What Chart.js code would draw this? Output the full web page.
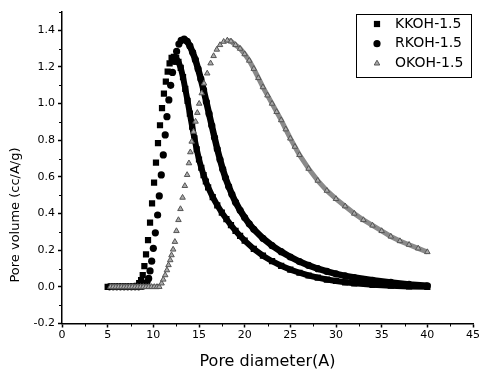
<!DOCTYPE html>
<html>
<head>
<meta charset="utf-8">
<script src="https://cdn.jsdelivr.net/npm/chart.js@4"></script>
<style>
  html, body { margin: 0; padding: 0; background: #fff; }
</style>
</head>
<body>
<canvas id="psdChart" width="481" height="370"></canvas>
<script>
// Pore size distribution (x = pore diameter in A, y = pore volume cc/A/g)
const kkohX = [5.0, 5.4, 5.8, 6.2, 6.6, 7.0, 7.4, 7.8, 8.2, 8.45,
  8.66, 8.84, 9.02, 9.2, 9.42, 9.64, 9.86, 10.08, 10.29, 10.51,
  10.73, 10.95, 11.16, 11.37, 11.57, 11.78, 12.0, 12.25, 12.5, 12.75,
  13.0, 13.25, 13.5, 13.75, 14.0, 14.25, 14.5, 14.75, 15.0, 15.25,
  15.5, 15.75, 16.0, 16.5, 17.0, 17.5, 18.0, 18.5, 19.0, 19.5,
  20, 21, 22, 23, 24, 25, 26, 27, 28, 29,
  30, 31, 32, 34, 36, 38, 40];
const kkohY = [0, 0, 0, 0, 0, 0, 0, 0, 0.005, 0.02,
  0.037, 0.064, 0.113, 0.177, 0.255, 0.35, 0.456, 0.569, 0.678, 0.784,
  0.882, 0.975, 1.055, 1.12, 1.175, 1.22, 1.25, 1.255, 1.248, 1.228,
  1.195, 1.145, 1.08, 1.015, 0.945, 0.875, 0.81, 0.75, 0.695, 0.65,
  0.61, 0.575, 0.543, 0.49, 0.445, 0.405, 0.37, 0.337, 0.306, 0.278,
  0.252, 0.207, 0.17, 0.14, 0.115, 0.094, 0.077, 0.062, 0.05, 0.04,
  0.032, 0.025, 0.019, 0.011, 0.006, 0.002, 0];

const rkohX = [5.2, 5.6, 6.0, 6.4, 6.8, 7.2, 7.6, 8.0, 8.4, 8.8,
  9.1, 9.3, 9.49, 9.64, 9.82, 10.0, 10.22, 10.47, 10.65, 10.87,
  11.09, 11.3, 11.49, 11.7, 11.9, 12.1, 12.3, 12.55, 12.8, 13.05,
  13.37, 13.7, 14.0, 14.3, 14.6, 14.9, 15.2, 15.5, 15.8, 16.1,
  16.4, 16.7, 17.0, 17.3, 17.6, 17.9, 18.25, 18.6, 19.0, 19.5,
  20.0, 20.5, 21.0, 22, 23, 24, 25, 26, 27, 28,
  29, 30, 31, 32, 34, 36, 38, 40];
const rkohY = [0, 0, 0, 0, 0, 0, 0, 0, 0, 0.003,
  0.012, 0.025, 0.046, 0.087, 0.14, 0.21, 0.295, 0.392, 0.496, 0.611,
  0.72, 0.829, 0.929, 1.02, 1.1, 1.17, 1.23, 1.285, 1.325, 1.345,
  1.352, 1.34, 1.315, 1.28, 1.24, 1.19, 1.135, 1.075, 1.01, 0.945,
  0.88, 0.815, 0.752, 0.695, 0.642, 0.595, 0.548, 0.505, 0.462, 0.418,
  0.378, 0.344, 0.314, 0.265, 0.225, 0.192, 0.163, 0.138, 0.117, 0.099,
  0.084, 0.071, 0.06, 0.051, 0.036, 0.024, 0.013, 0.006];

const okohX = [5.3, 5.6, 5.9, 6.2, 6.5, 6.8, 7.1, 7.4, 7.7, 8.0,
  8.3, 8.6, 8.9, 9.2, 9.5, 9.8, 10.1, 10.4, 10.65, 10.9,
  11.09, 11.3, 11.49, 11.66, 11.85, 11.99, 12.17, 12.36, 12.53, 12.75,
  12.97, 13.2, 13.45, 13.7, 13.9, 14.05, 14.2, 14.4, 14.62, 14.82,
  15.02, 15.3, 15.55, 15.9, 16.27, 16.6, 16.95, 17.3, 17.7, 18.1,
  18.5, 19.0, 19.5, 20.0, 20.5, 21.0, 21.5, 22.0, 22.5, 23.0,
  23.5, 24.0, 24.5, 25.0, 25.5, 26.0, 27, 28, 29, 30,
  31, 32, 33, 34, 35, 36, 37, 38, 39, 40];
const okohY = [0, 0, 0, 0, 0, 0, 0, 0, 0, 0,
  0, 0, 0, 0, 0, 0, 0, 0, 0, 0.019,
  0.04, 0.064, 0.091, 0.119, 0.146, 0.173, 0.204, 0.246, 0.305, 0.365,
  0.425, 0.487, 0.551, 0.611, 0.675, 0.735, 0.793, 0.847, 0.902, 0.95,
  1.0, 1.057, 1.11, 1.165, 1.22, 1.26, 1.295, 1.32, 1.338, 1.345,
  1.34, 1.32, 1.30, 1.27, 1.235, 1.19, 1.14, 1.09, 1.045, 1.0,
  0.955, 0.91, 0.86, 0.81, 0.765, 0.72, 0.645, 0.58, 0.525, 0.48,
  0.44, 0.40, 0.365, 0.335, 0.305, 0.275, 0.25, 0.23, 0.21, 0.19];

const seriesLabels = ['KKOH-1.5', 'RKOH-1.5', 'OKOH-1.5'];
const xTicks = [0, 5, 10, 15, 20, 25, 30, 35, 40, 45];
const yTicks = [-0.2, 0.0, 0.2, 0.4, 0.6, 0.8, 1.0, 1.2, 1.4];

const FONT = '"DejaVu Sans", sans-serif';

function toPoints(xs, ys) {
  return xs.map((x, i) => ({ x: x, y: ys[i] }));
}

// markers stand apart on the rising side; where the curve falls or is flat
// they overlap into a solid band, so only join those segments
function hideRising(ctx) {
  return ctx.p1.parsed.y > ctx.p0.parsed.y + 0.001 ? 'rgba(0,0,0,0)' : undefined;
}

// small marker drawer used by the boxed legend
function drawMarker(ctx, style, x, y, r) {
  ctx.beginPath();
  if (style === 'rect') {
    const s = r * Math.SQRT1_2;
    ctx.rect(x - s, y - s, 2 * s, 2 * s);
  } else if (style === 'triangle') {
    ctx.moveTo(x, y - r);
    ctx.lineTo(x + r * 0.866, y + r * 0.5);
    ctx.lineTo(x - r * 0.866, y + r * 0.5);
    ctx.closePath();
  } else {
    ctx.arc(x, y, r, 0, Math.PI * 2);
  }
  ctx.fill();
}

const boxLegend = {
  id: 'boxLegend',
  afterDraw(chart) {
    const ctx = chart.ctx;
    ctx.save();
    ctx.fillStyle = '#fff';
    ctx.fillRect(356, 14, 116, 63);
    ctx.strokeStyle = '#000';
    ctx.lineWidth = 1;
    ctx.strokeRect(356.5, 14.5, 115, 63);
    ctx.font = '14px ' + FONT;
    ctx.textBaseline = 'middle';
    ctx.textAlign = 'left';
    chart.data.datasets.forEach((ds, i) => {
      const y = 24 + i * 19.7;
      ctx.fillStyle = ds.pointBackgroundColor;
      drawMarker(ctx, ds.pointStyle, 377, y, ds.pointRadius);
      if (ds.pointBorderWidth) {
        ctx.strokeStyle = ds.pointBorderColor;
        ctx.lineWidth = ds.pointBorderWidth;
        ctx.stroke();
      }
      ctx.fillStyle = '#000';
      ctx.fillText(ds.label, 395, y);
    });
    ctx.restore();
  }
};

const minorTicks = {
  id: 'minorTicks',
  afterDraw(chart) {
    const { ctx, chartArea, scales } = chart;
    ctx.save();
    ctx.strokeStyle = '#000';
    ctx.lineWidth = 1;
    ctx.beginPath();
    for (let v = -0.1; v < 1.55; v += 0.2) {
      const y = Math.round(scales.y.getPixelForValue(v)) + 0.5;
      ctx.moveTo(chartArea.left - 3, y);
      ctx.lineTo(chartArea.left, y);
    }
    for (let v = 2.5; v < 45; v += 5) {
      const x = Math.round(scales.x.getPixelForValue(v)) + 0.5;
      ctx.moveTo(x, chartArea.bottom);
      ctx.lineTo(x, chartArea.bottom + 3);
    }
    ctx.stroke();
    ctx.restore();
  }
};

// the y title sits below the middle of the axis in the original, so place it by hand
const yTitle = {
  id: 'yTitle',
  afterDraw(chart) {
    const ctx = chart.ctx;
    ctx.save();
    ctx.translate(16, 215);
    ctx.rotate(-Math.PI / 2);
    ctx.font = '13px ' + FONT;
    ctx.fillStyle = '#000';
    ctx.textAlign = 'center';
    ctx.textBaseline = 'middle';
    ctx.fillText('Pore volume (cc/A/g)', 0, 0);
    ctx.restore();
  }
};

const ctx = document.getElementById('psdChart').getContext('2d');
const psdChart = new Chart(ctx, {
  type: 'scatter',
  data: {
    datasets: [{
      label: seriesLabels[0],
      data: toPoints(kkohX, kkohY),
      showLine: true,
      borderColor: '#000',
      borderWidth: 6,
      backgroundColor: '#000',
      pointStyle: 'rect',
      pointRadius: 4.4,
      pointBackgroundColor: '#000',
      pointBorderColor: '#000',
      pointBorderWidth: 0,
      segment: { borderColor: hideRising },
      order: 1
    }, {
      label: seriesLabels[1],
      data: toPoints(rkohX, rkohY),
      showLine: true,
      borderColor: '#000',
      borderWidth: 6.5,
      backgroundColor: '#000',
      pointStyle: 'circle',
      pointRadius: 3.6,
      pointBackgroundColor: '#000',
      pointBorderColor: '#000',
      pointBorderWidth: 0,
      segment: { borderColor: hideRising },
      order: 2
    }, {
      label: seriesLabels[2],
      data: toPoints(okohX, okohY),
      showLine: true,
      borderColor: '#8a8a8a',
      borderWidth: 5,
      backgroundColor: '#aaa',
      pointStyle: 'triangle',
      pointRadius: 3.2,
      pointBackgroundColor: '#aaa',
      pointBorderColor: '#555',
      pointBorderWidth: 1,
      segment: { borderColor: hideRising },
      order: 0
    }]
  },
  options: {
    responsive: false,
    animation: false,
    layout: { padding: { top: 12, right: 6, bottom: 0, left: 0 } },
    plugins: {
      legend: { display: false },
      tooltip: { enabled: false }
    },
    scales: {
      x: {
        type: 'linear',
        min: 0,
        max: 45,
        afterBuildTicks: s => { s.ticks = xTicks.map(v => ({ value: v })); },
        afterFit: s => { s.height = 46.5; },
        ticks: {
          color: '#000',
          font: { family: FONT, size: 11 },
          padding: 1,
          maxRotation: 0
        },
        grid: {
          drawOnChartArea: false,
          drawTicks: true,
          tickLength: 4,
          tickColor: '#000',
          tickWidth: 1.5
        },
        border: { display: true, color: '#000', width: 1.5 },
        title: {
          display: true,
          text: 'Pore diameter(A)',
          color: '#000',
          font: { family: FONT, size: 16, lineHeight: 1.0 },
          padding: { top: 0, bottom: 0 }
        }
      },
      y: {
        type: 'linear',
        min: -0.2,
        max: 1.5,
        afterBuildTicks: s => { s.ticks = yTicks.map(v => ({ value: v })); },
        afterFit: s => { s.width = 62; },
        ticks: {
          color: '#000',
          font: { family: FONT, size: 11 },
          padding: 3,
          callback: v => v.toFixed(1)
        },
        grid: {
          drawOnChartArea: false,
          drawTicks: true,
          tickLength: 4,
          tickColor: '#000',
          tickWidth: 1.5
        },
        border: { display: true, color: '#000', width: 1.5 }
      }
    }
  },
  plugins: [minorTicks, yTitle, boxLegend]
});
</script>
</body>
</html>
